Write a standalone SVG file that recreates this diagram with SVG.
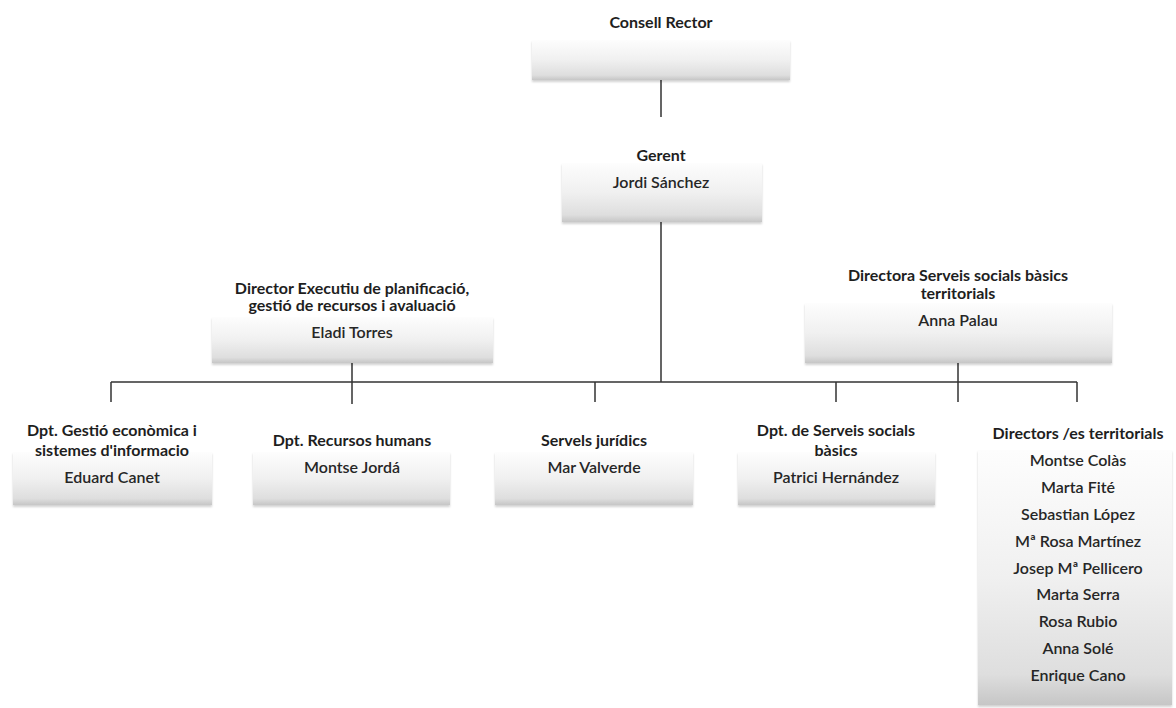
<svg xmlns="http://www.w3.org/2000/svg" width="1176" height="708" viewBox="0 0 1176 708">
<defs>
<linearGradient id="g" x1="0" y1="0" x2="0" y2="1">
<stop offset="0" stop-color="#fdfdfd"/>
<stop offset="0.5" stop-color="#f0f0f0"/>
<stop offset="0.88" stop-color="#dedede"/>
<stop offset="1" stop-color="#c6c6c6"/>
</linearGradient>
<filter id="sh" x="-5%" y="-10%" width="110%" height="130%">
<feGaussianBlur in="SourceAlpha" stdDeviation="1.2"/>
<feOffset dy="2" result="b"/>
<feComponentTransfer><feFuncA type="linear" slope="0.18"/></feComponentTransfer>
<feMerge><feMergeNode/><feMergeNode in="SourceGraphic"/></feMerge>
</filter>
</defs>
<style>
.box{fill:url(#g);filter:url(#sh)}
.t{font-family:Lato,"Liberation Sans",sans-serif;font-size:16px;font-weight:bold;fill:#1e1e1e;text-anchor:middle}
.n{font-family:Lato,"Liberation Sans",sans-serif;font-size:16px;font-weight:600;fill:#262626;text-anchor:middle}
.c{stroke:#333;stroke-width:1.5;fill:none}
</style>
<rect width="1176" height="708" fill="#fff"/>
<g id="connectors">
<path class="c" d="M661 80V117M661 222V382M111 382H1077M111 382V402M352 363V404M595 382V402M836 382V402M958 363V402M1077 382V402"/>
</g>
<g id="consell">
<rect class="box" x="532" y="40" width="258" height="40"/>
<text class="t" x="661" y="28">Consell Rector</text>
</g>
<g id="gerent">
<rect class="box" x="562" y="163" width="200" height="59"/>
<text class="t" x="661" y="161">Gerent</text>
<text class="n" x="661" y="188">Jordi Sánchez</text>
</g>
<g id="director">
<rect class="box" x="212" y="317" width="281" height="46"/>
<text class="t" x="352" y="294">Director Executiu de planificació,</text>
<text class="t" x="352" y="311">gestió de recursos i avaluació</text>
<text class="n" x="352" y="338">Eladi Torres</text>
</g>
<g id="directora">
<rect class="box" x="805" y="303" width="307" height="60"/>
<text class="t" x="958" y="281">Directora Serveis socials bàsics</text>
<text class="t" x="958" y="299">territorials</text>
<text class="n" x="958" y="326">Anna Palau</text>
</g>
<g id="gestio">
<rect class="box" x="13" y="452" width="199" height="53"/>
<text class="t" x="112" y="436">Dpt. Gestió econòmica i</text>
<text class="t" x="112" y="456">sistemes d'informacio</text>
<text class="n" x="112" y="483">Eduard Canet</text>
</g>
<g id="rrhh">
<rect class="box" x="253" y="452" width="197" height="53"/>
<text class="t" x="352" y="446">Dpt. Recursos humans</text>
<text class="n" x="352" y="473">Montse Jordá</text>
</g>
<g id="juridics">
<rect class="box" x="495" y="452" width="198" height="53"/>
<text class="t" x="594" y="446">Servels jurídics</text>
<text class="n" x="594" y="473">Mar Valverde</text>
</g>
<g id="ssb">
<rect class="box" x="738" y="452" width="197" height="53"/>
<text class="t" x="836" y="436">Dpt. de Serveis socials</text>
<text class="t" x="836" y="456">bàsics</text>
<text class="n" x="836" y="483">Patrici Hernández</text>
</g>
<g id="territorials">
<rect class="box" x="978" y="450" width="194" height="255"/>
<text class="t" x="1078" y="439">Directors /es territorials</text>
<text class="n" x="1078" y="466">Montse Colàs</text>
<text class="n" x="1078" y="493">Marta Fité</text>
<text class="n" x="1078" y="520">Sebastian López</text>
<text class="n" x="1078" y="547">Mª Rosa Martínez</text>
<text class="n" x="1078" y="574">Josep Mª Pellicero</text>
<text class="n" x="1078" y="600">Marta Serra</text>
<text class="n" x="1078" y="627">Rosa Rubio</text>
<text class="n" x="1078" y="654">Anna Solé</text>
<text class="n" x="1078" y="681">Enrique Cano</text>
</g>
</svg>
